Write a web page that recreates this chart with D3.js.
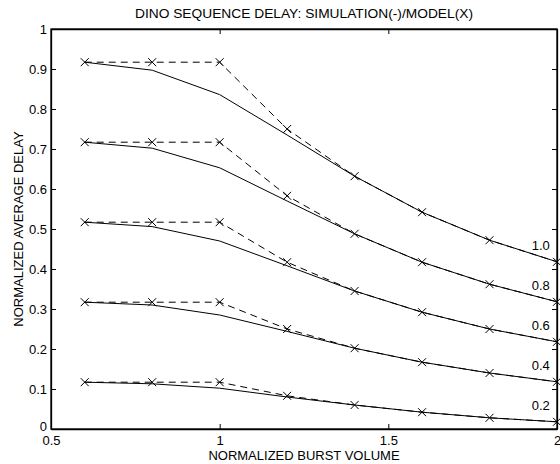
<!DOCTYPE html>
<html>
<head>
<meta charset="utf-8">
<script src="https://cdn.jsdelivr.net/npm/d3@7"></script>
<style>
	body { margin: 0; background: #fff; }
	svg text { font-family: "Liberation Sans", Arial, sans-serif; fill: #000; }
</style>
</head>
<body>
<div id="chart"></div>
<script>
// burst volume points
const burst = [0.6, 0.8, 1.0, 1.2, 1.4, 1.6, 1.8, 2.0];
const loads = ["1.0", "0.8", "0.6", "0.4", "0.2"];

// model (dashed, X markers)
const model = [
	[0.917, 0.917, 0.917, 0.750, 0.632, 0.542, 0.472, 0.418],
	[0.717, 0.717, 0.717, 0.583, 0.488, 0.417, 0.362, 0.318],
	[0.517, 0.517, 0.517, 0.417, 0.345, 0.292, 0.250, 0.218],
	[0.317, 0.317, 0.317, 0.250, 0.202, 0.167, 0.140, 0.118],
	[0.117, 0.117, 0.117, 0.083, 0.060, 0.042, 0.028, 0.018]
];
// simulation (solid)
const sim = [
	[0.917, 0.897, 0.836, 0.735, 0.632, 0.542, 0.472, 0.418],
	[0.717, 0.702, 0.653, 0.570, 0.488, 0.417, 0.362, 0.318],
	[0.517, 0.506, 0.470, 0.408, 0.345, 0.292, 0.250, 0.218],
	[0.317, 0.310, 0.285, 0.244, 0.202, 0.167, 0.140, 0.118],
	[0.117, 0.113, 0.102, 0.080, 0.060, 0.042, 0.028, 0.018]
];
const xTicks = [0.5, 1, 1.5, 2];
const yTicks = [0, 0.1, 0.2, 0.3, 0.4, 0.5, 0.6, 0.7, 0.8, 0.9, 1];

const W = 560, H = 464;
const m = { left: 51, right: 3, top: 29, bottom: 35 };

const svg = d3.select("#chart").append("svg")
	.attr("width", W)
	.attr("height", H);

const x = d3.scaleLinear().domain([0.5, 2]).range([m.left, W - m.right]);
const y = d3.scaleLinear().domain([0, 1]).range([H - m.bottom, m.top]);

// axes, ticks pointing inward like matlab
const tl = 5;
svg.append("g")
	.attr("transform", `translate(0,${y(0)})`)
	.call(d3.axisBottom(x).tickValues(xTicks).tickSizeInner(-tl).tickSizeOuter(0).tickPadding(7)
		.tickFormat(d3.format("")))
	.call(g => g.selectAll("text").attr("font-size", 13).attr("dy", "0.71em"));
svg.append("g")
	.attr("transform", `translate(0,${y(1)})`)
	.call(d3.axisTop(x).tickValues(xTicks).tickSizeInner(-tl).tickSizeOuter(0).tickFormat(""));
svg.append("g")
	.attr("transform", `translate(${x(0.5)},0)`)
	.call(d3.axisLeft(y).tickValues(yTicks).tickSizeInner(-tl).tickSizeOuter(0).tickPadding(4)
		.tickFormat(d3.format("")))
	.call(g => g.selectAll("text").attr("font-size", 13))
	// the 0 label sits a little higher so it clears the 0.5 below it
	.call(g => g.selectAll(".tick").filter(d => d === 0).select("text").attr("dy", "0.1em"));
svg.append("g")
	.attr("transform", `translate(${x(2)},0)`)
	.call(d3.axisRight(y).tickValues(yTicks).tickSizeInner(-tl).tickSizeOuter(0).tickFormat(""));

svg.selectAll(".domain").attr("stroke", "#000").attr("stroke-width", 1.3);
svg.selectAll(".tick line").attr("stroke", "#000");

// box
svg.append("rect")
	.attr("x", x(0.5)).attr("y", y(1))
	.attr("width", x(2) - x(0.5)).attr("height", y(0) - y(1))
	.attr("fill", "none").attr("stroke", "#000").attr("stroke-width", 1.3);

const line = d3.line().x((d, i) => x(burst[i])).y(d => y(d));

svg.selectAll(".sim").data(sim).join("path")
	.attr("class", "sim")
	.attr("d", line)
	.attr("fill", "none").attr("stroke", "#000").attr("stroke-width", 1);

svg.selectAll(".model").data(model).join("path")
	.attr("class", "model")
	.attr("d", line)
	.attr("fill", "none").attr("stroke", "#000").attr("stroke-width", 1)
	.attr("stroke-dasharray", "7,5");

// x markers
const ms = 4;
model.forEach(series => {
	svg.append("g").selectAll("path").data(series).join("path")
		.attr("d", (d, i) => {
			const cx = x(burst[i]), cy = y(d);
			return `M${cx - ms},${cy - ms}L${cx + ms},${cy + ms}M${cx - ms},${cy + ms}L${cx + ms},${cy - ms}`;
		})
		.attr("stroke", "#000").attr("stroke-width", 1);
});

// curve labels
svg.selectAll(".lbl").data(loads).join("text")
	.attr("class", "lbl")
	.attr("x", x(1.925))
	.attr("y", (d, i) => y(model[i][model[i].length - 1] + 0.03))
	.attr("font-size", 13)
	.text(d => d);

// titles
svg.append("text")
	.attr("x", (x(0.5) + x(2)) / 2).attr("y", 18)
	.attr("text-anchor", "middle").attr("font-size", 13.5)
	.attr("textLength", 338).attr("lengthAdjust", "spacingAndGlyphs")
	.text("DINO SEQUENCE DELAY: SIMULATION(-)/MODEL(X)");
svg.append("text")
	.attr("x", (x(0.5) + x(2)) / 2).attr("y", 460)
	.attr("text-anchor", "middle").attr("font-size", 13)
	.text("NORMALIZED BURST VOLUME");
svg.append("text")
	.attr("transform", `translate(23,${(y(0) + y(1)) / 2}) rotate(-90)`)
	.attr("text-anchor", "middle").attr("font-size", 13)
	.text("NORMALIZED AVERAGE DELAY");
</script>
</body>
</html>
